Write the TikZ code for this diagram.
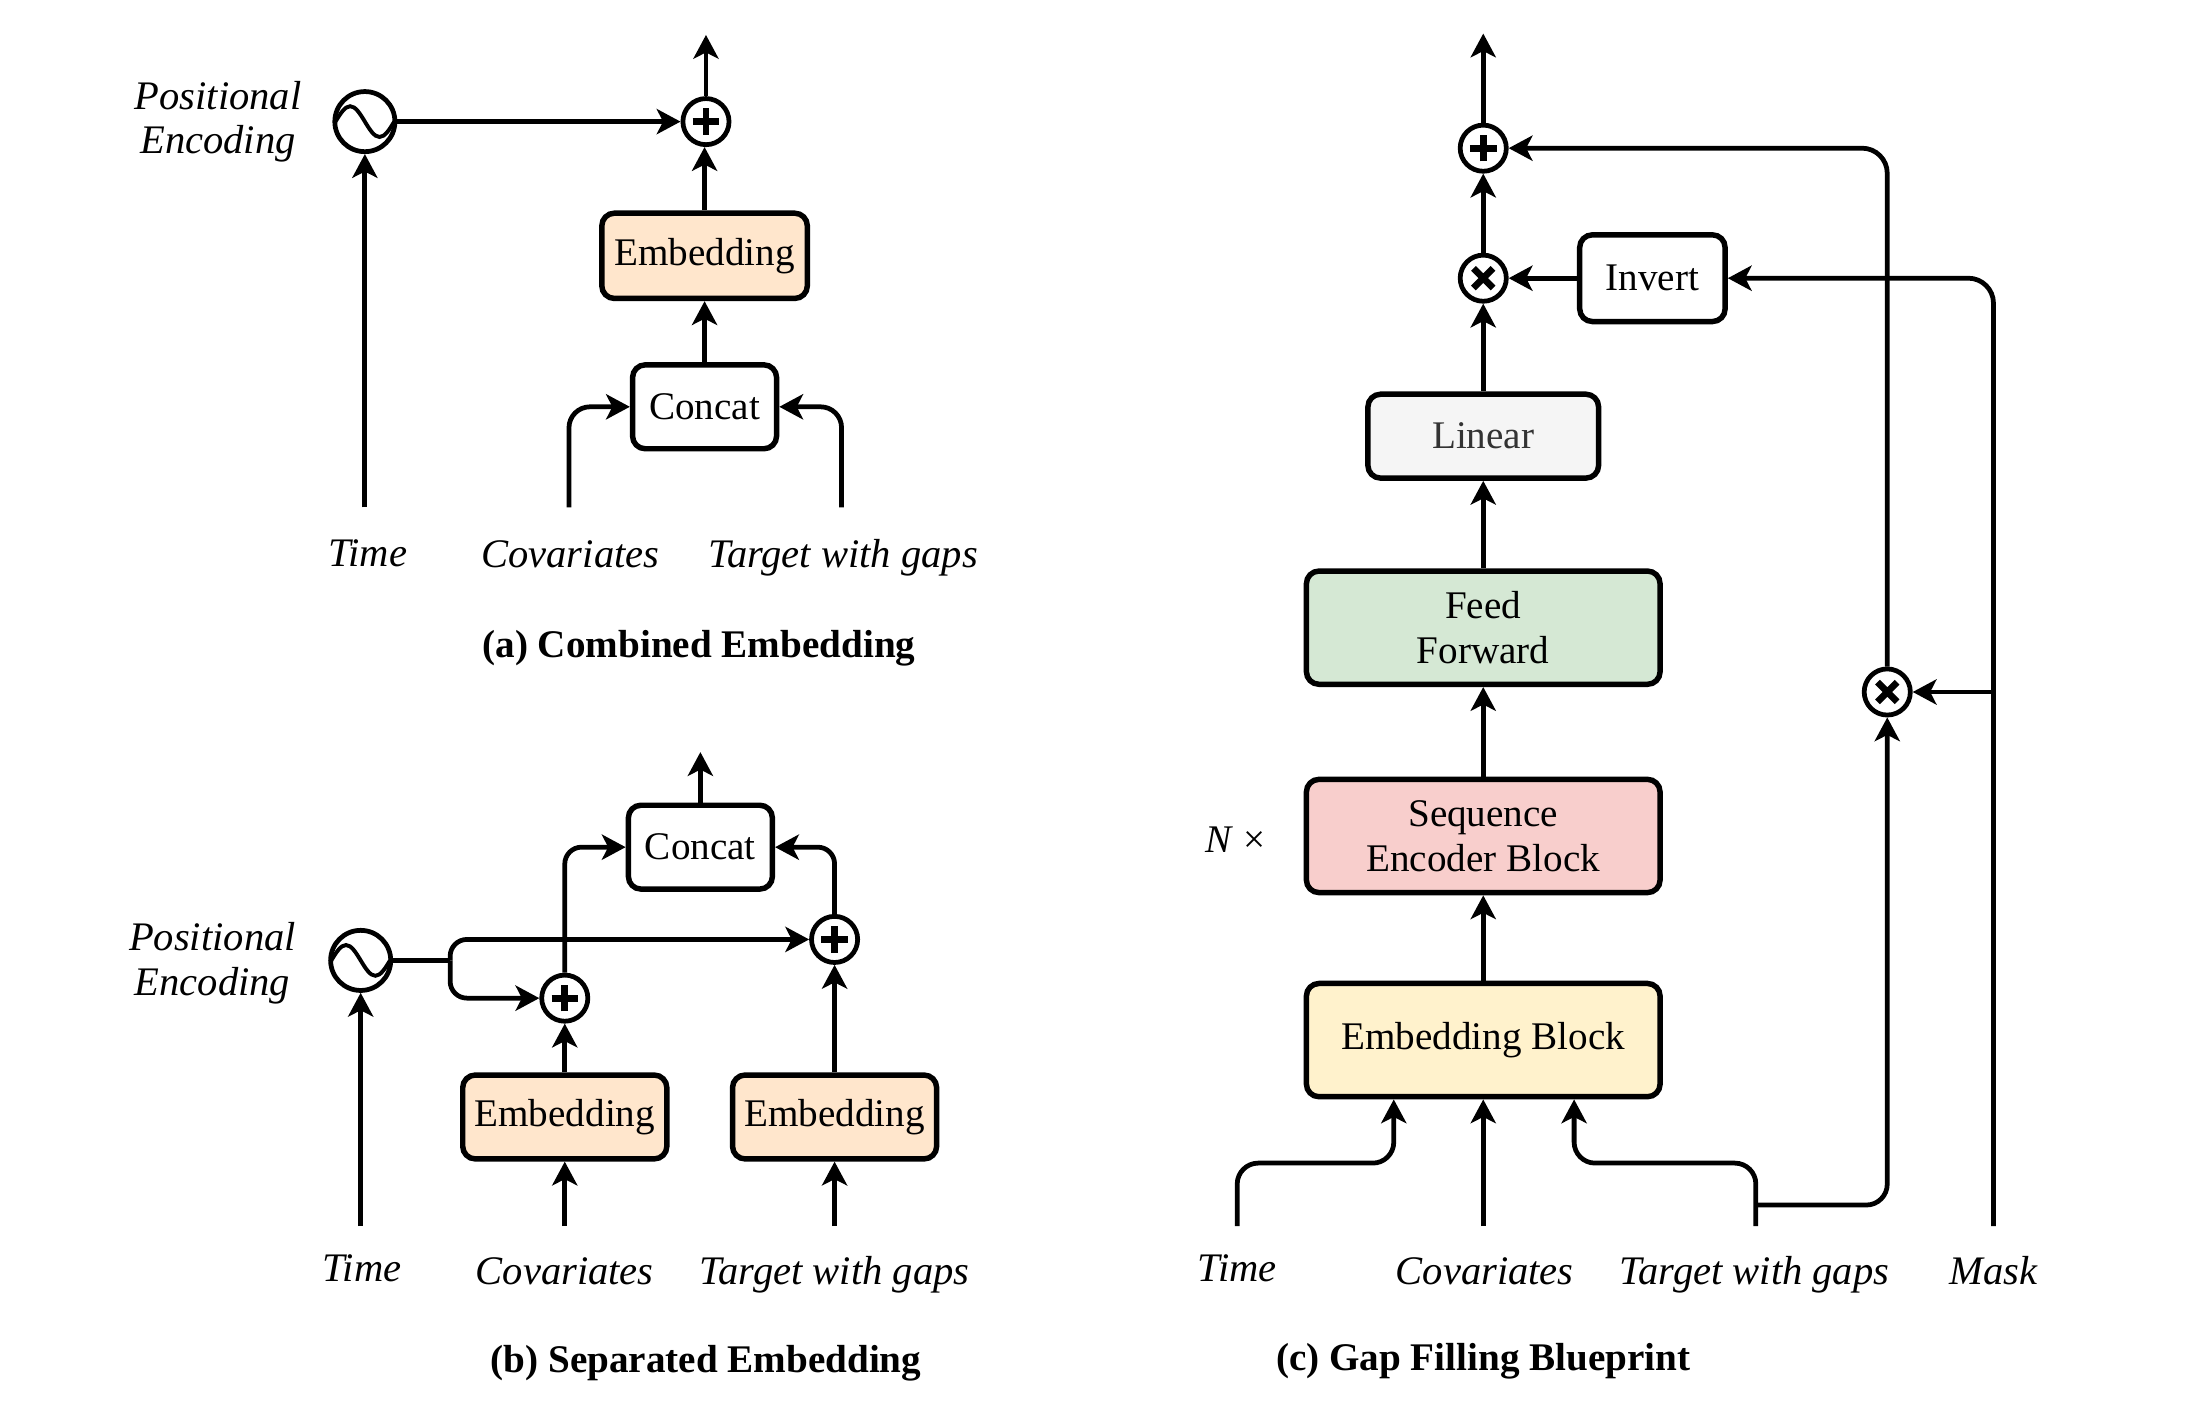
\documentclass[tikz,border=0pt]{standalone}
\usepackage{fontspec}
\setmainfont{Liberation Serif}
\usetikzlibrary{arrows.meta}

\definecolor{embfill}{HTML}{FFE6CC}
\definecolor{fffill}{HTML}{D5E8D4}
\definecolor{sebfill}{HTML}{F8CECC}
\definecolor{ebfill}{HTML}{FFF2CC}
\definecolor{linfill}{HTML}{F5F5F5}
\definecolor{lintext}{HTML}{333333}

\newcommand\lblfont{\fontsize{28}{32}\selectfont}
\newcommand\inpfont{\fontsize{29}{32}\selectfont}

\begin{document}
\begin{tikzpicture}[x=1pt, y=-1pt,
  box/.style={draw=black, line width=3.9pt, rounded corners=9pt, align=center,
    font=\lblfont, inner sep=0pt},
  lbl/.style={font=\inpfont\itshape, anchor=base, inner sep=0pt},
  captext/.style={font=\lblfont\bfseries, anchor=base, inner sep=0pt},
  wire/.style={line width=3.4pt},
  arr/.style={wire, -{Stealth[length=17pt, width=18pt, inset=4.5pt]}},
  opnode/.style={circle, draw=black, line width=3.4pt, minimum size=33pt,
    inner sep=0pt, fill=white},
  plusop/.style={opnode, path picture={
    \draw[line width=4.8pt]
      ([xshift=-9.5pt]path picture bounding box.center) --
      ([xshift=9.5pt]path picture bounding box.center)
      ([yshift=-9.5pt]path picture bounding box.center) --
      ([yshift=9.5pt]path picture bounding box.center);}},
  timesop/.style={opnode, path picture={
    \draw[line width=4.8pt]
      ([shift={(-7pt,-7pt)}]path picture bounding box.center) --
      ([shift={(7pt,7pt)}]path picture bounding box.center)
      ([shift={(-7pt,7pt)}]path picture bounding box.center) --
      ([shift={(7pt,-7pt)}]path picture bounding box.center);}},
  pe/.style={circle, draw=black, line width=3.4pt, minimum size=43pt,
    inner sep=0pt, fill=white, path picture={
    \draw[line width=2.8pt]
      ([xshift=-21pt]path picture bounding box.center)
      sin ++(10.5,-11) cos ++(10.5,11) sin ++(10.5,11) cos ++(10.5,-11);}}
]
\useasboundingbox (0,0) rectangle (1568,1016);

% ---------------- (a) Combined Embedding ----------------
\node[pe] (pea) at (261,87) {};
\node[font=\inpfont\itshape, align=center, inner sep=0pt] (pealbl) at (156,87) {Positional\\Encoding};
\node[plusop] (plusa) at (505,87) {};
\node[box, fill=embfill, minimum width=147pt, minimum height=61pt] (emba) at (504,183) {Embedding};
\node[box, minimum width=103pt, minimum height=60pt] (cata) at (504,291) {Concat};
\coordinate (outa) at (505,25);
\coordinate (timea) at (261,363);
\coordinate (cova) at (407,363);
\coordinate (tgta) at (602,363);
\node[lbl] (timealbl) at (263,405) {Time};
\node[lbl] (covalbl) at (408,406) {Covariates};
\node[lbl] (tgtalbl) at (603,406) {Target with gaps};
\node[captext] (capa) at (500,470) {(a) Combined Embedding};

\draw[arr] (timea) -- (pea.south);
\draw[arr] (pea.east) -- (plusa.west);
\draw[arr] (plusa.north) -- (outa);
\draw[arr] (emba.north) -- (emba.north |- plusa.south);
\draw[arr] (cata.north) -- (emba.south);
\draw[arr, rounded corners=15pt] (cova) |- (cata.west);
\draw[arr, rounded corners=15pt] (tgta) |- (cata.east);

% ---------------- (b) Separated Embedding ----------------
\node[pe] (peb) at (258,687) {};
\node[font=\inpfont\itshape, align=center, inner sep=0pt] (peblbl) at (152,689) {Positional\\Encoding};
\coordinate (forkb) at (322,687);
\node[plusop] (plusb1) at (404,714) {};
\node[plusop] (plusb2) at (597,672) {};
\node[box, fill=embfill, minimum width=146pt, minimum height=60pt] (embb1) at (404,799) {Embedding};
\node[box, fill=embfill, minimum width=146pt, minimum height=60pt] (embb2) at (597,799) {Embedding};
\node[box, minimum width=103pt, minimum height=60pt] (catb) at (501,606) {Concat};
\coordinate (outb) at (501,538);
\coordinate (timeb) at (258,877);
\coordinate (covb) at (404,877);
\coordinate (tgtb) at (597,877);
\node[lbl] (timeblbl) at (259,917) {Time};
\node[lbl] (covblbl) at (404,919) {Covariates};
\node[lbl] (tgtblbl) at (597,919) {Target with gaps};
\node[captext] (capb) at (505,982) {(b) Separated Embedding};

\draw[arr] (timeb) -- (peb.south);
\draw[wire] (peb.east) -- (forkb);
\draw[arr, rounded corners=12pt] (forkb) |- (plusb2.west);
\draw[arr, rounded corners=12pt] (forkb) |- (plusb1.west);
\draw[arr] (covb) -- (embb1.south);
\draw[arr] (tgtb) -- (embb2.south);
\draw[arr] (embb1.north) -- (plusb1.south);
\draw[arr] (embb2.north) -- (plusb2.south);
\draw[arr, rounded corners=12pt] (plusb1.north) |- (catb.west);
\draw[arr, rounded corners=12pt] (plusb2.north) |- (catb.east);
\draw[arr] (catb.north) -- (outb);

% ---------------- (c) Gap Filling Blueprint ----------------
\node[plusop] (plusc) at (1061,106) {};
\node[timesop] (timesc) at (1061,199) {};
\node[box, minimum width=104pt, minimum height=62pt] (inv) at (1182,199) {Invert};
\node[box, fill=linfill, text=lintext, minimum width=165pt, minimum height=60pt] (lin) at (1061,312) {Linear};
\node[box, fill=fffill, minimum width=253pt, minimum height=81pt] (ff) at (1061,449) {Feed\\Forward};
\node[box, fill=sebfill, minimum width=253pt, minimum height=81pt] (seb) at (1061,598) {Sequence\\Encoder Block};
\node[box, fill=ebfill, minimum width=253pt, minimum height=81pt] (eb) at (1061,744) {Embedding Block};
\node[font=\lblfont, inner sep=0pt] (nx) at (884,601) {\textit{N} ×};
\node[timesop] (timesc2) at (1350,495) {};
\coordinate (outc) at (1061,24);
\coordinate (timec) at (885,877);
\coordinate (covc) at (1061,877);
\coordinate (tgtc) at (1256,877);
\coordinate (maskc) at (1426,877);
\coordinate (tgtbr) at (1256,862);
\coordinate (maskbr) at (1426,495);
\node[lbl] (timeclbl) at (885,917) {Time};
\node[lbl] (covclbl) at (1062,919) {Covariates};
\node[lbl] (tgtclbl) at (1255,919) {Target with gaps};
\node[lbl] (maskclbl) at (1426,919) {Mask};
\node[captext] (capc) at (1061,980) {(c) Gap Filling Blueprint};

\draw[arr] (plusc.north) -- (outc);
\draw[arr] (timesc.north) -- (plusc.south);
\draw[arr] (inv.west) -- (timesc.east);
\draw[arr] (lin.north) -- (timesc.south);
\draw[arr] (ff.north) -- (lin.south);
\draw[arr] (seb.north) -- (ff.south);
\draw[arr] (eb.north) -- (seb.south);
\draw[arr, rounded corners=15pt] (timec) -- ++(0,-45) -| ([xshift=-64pt]eb.south);
\draw[arr] (covc) -- (eb.south);
\draw[arr, rounded corners=15pt] (tgtc) -- ++(0,-45) -| ([xshift=65pt]eb.south);
\draw[arr, rounded corners=15pt] (tgtbr) -| (timesc2.south);
\draw[arr, rounded corners=18pt] (maskc) |- (inv.east);
\draw[arr] (maskbr) -- (timesc2.east);
\draw[arr, rounded corners=18pt] (timesc2.north) |- (plusc.east);

\end{tikzpicture}
\end{document}
